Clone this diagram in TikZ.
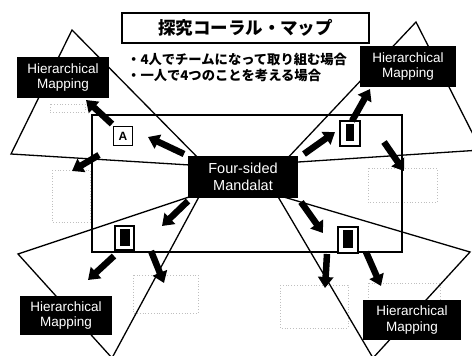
\documentclass[tikz,border=0pt]{standalone}
\usepackage{fontspec}
\newfontfamily\arial{Liberation Sans}
\newfontfamily\jp{Noto Sans CJK JP}
\usetikzlibrary{arrows.meta}
\tikzset{
  tri/.style={draw=black, line width=1.3pt, line join=miter},
  hm/.style={fill=black, text=white, inner sep=0pt, align=center,
     font=\arial\fontsize{13.5}{15.5}\selectfont},
  smallbox/.style={draw=black, line width=1.4pt, fill=white, inner sep=0pt},
  inner/.style={fill=black, inner sep=0pt},
  bigarrow/.style={line width=6.5pt, -{Triangle[length=11pt,width=15pt]}, shorten <=0pt},
  ghost/.style={draw=black!25, dotted, line width=0.8pt},
}
\begin{document}
\begin{tikzpicture}[x=1pt,y=-1pt]
\useasboundingbox (0,0) rectangle (472,356);
\begin{scope}
\clip (0,0) rectangle (472,356);
% faint grid boxes
\draw[ghost] (368,168) rectangle (437,202);
\draw[ghost] (133,275) rectangle (198,313);
\draw[ghost] (280,285) rectangle (348,328);
\draw[ghost] (368,283) rectangle (440,300);
\draw[ghost] (52,170) rectangle (90,222);
\draw[ghost] (50,104) rectangle (85,112);
% triangles
\draw[tri] (72,30) -- (11,154) -- (206,166) -- cycle;
\draw[tri] (416,22) -- (283,163) -- (481,150) -- cycle;
\draw[tri] (18,254) -- (112,358) -- (201,193) -- cycle;
\draw[tri] (277,195) -- (470,252) -- (373,358) -- cycle;
\end{scope}
% main rectangle
\draw[line width=2.8pt] (92,115) rectangle (402,252);
% title
\node[draw=black, line width=1.3pt, minimum width=247pt, minimum height=30pt, inner sep=0pt,
  font=\jp\bfseries\fontsize{17.5}{20}\selectfont] (title) at (245.5,28) {探究コーラル・マップ};
\node[anchor=west, inner sep=0pt, font=\jp\bfseries\fontsize{13.3}{15}\selectfont] (b1) at (127,59) {・4人でチームになって取り組む場合};
\node[anchor=west, inner sep=0pt, font=\jp\bfseries\fontsize{13.3}{15}\selectfont] (b2) at (127,75) {・一人で4つのことを考える場合};
% center node
\node[hm, minimum width=110pt, minimum height=42pt, font=\arial\fontsize{14.5}{17}\selectfont] (center) at (243,177) {Four-sided\\Mandalat};
% hierarchical mapping boxes
\node[hm, minimum width=92pt, minimum height=41pt] (hmtl) at (63,77.5) {Hierarchical\\Mapping};
\node[hm, minimum width=96pt, minimum height=41pt] (hmtr) at (408,66.5) {Hierarchical\\Mapping};
\node[hm, minimum width=92pt, minimum height=39pt] (hmbl) at (66,315.5) {Hierarchical\\Mapping};
\node[hm, minimum width=98pt, minimum height=40pt] (hmbr) at (412,320) {Hierarchical\\Mapping};
% small boxes
\node[smallbox, minimum width=19pt, minimum height=19pt, font=\arial\bfseries\fontsize{12}{12}\selectfont] (boxA) at (123,136) {A};
\node[smallbox, minimum width=20pt, minimum height=25pt] (boxTR) at (350,133.5) {};
\node[inner, minimum width=8pt, minimum height=17pt] (inTR) at (350,132) {};
\node[smallbox, minimum width=19pt, minimum height=24pt] (boxBL) at (124.5,238) {};
\node[inner, minimum width=10pt, minimum height=17pt] (inBL) at (124.5,237.5) {};
\node[smallbox, minimum width=20pt, minimum height=26pt] (boxBR) at (348,240) {};
\node[inner, minimum width=10pt, minimum height=18pt] (inBR) at (348,239) {};
% arrow end points
\coordinate (t1) at (112,124); \coordinate (h1) at (86,100);
\coordinate (t2) at (184,154); \coordinate (h2) at (148,137);
\coordinate (t3) at (99,155);  \coordinate (h3) at (72,171);
\coordinate (t4) at (304,154); \coordinate (h4) at (335,132);
\coordinate (t5) at (352,121); \coordinate (h5) at (370,89);
\coordinate (t6) at (384,142); \coordinate (h6) at (404,171);
\coordinate (t7) at (188,201); \coordinate (h7) at (162,226);
\coordinate (t8) at (114,256); \coordinate (h8) at (88,280);
\coordinate (t9) at (151,251); \coordinate (h9) at (164,283);
\coordinate (t10) at (301,202); \coordinate (h10) at (323,233);
\coordinate (t11) at (327,254); \coordinate (h11) at (325,288);
\coordinate (t12) at (366,252); \coordinate (h12) at (381,286);
\foreach \i in {1,...,12} {\draw[bigarrow] (t\i) -- (h\i);}
\end{tikzpicture}
\end{document}
